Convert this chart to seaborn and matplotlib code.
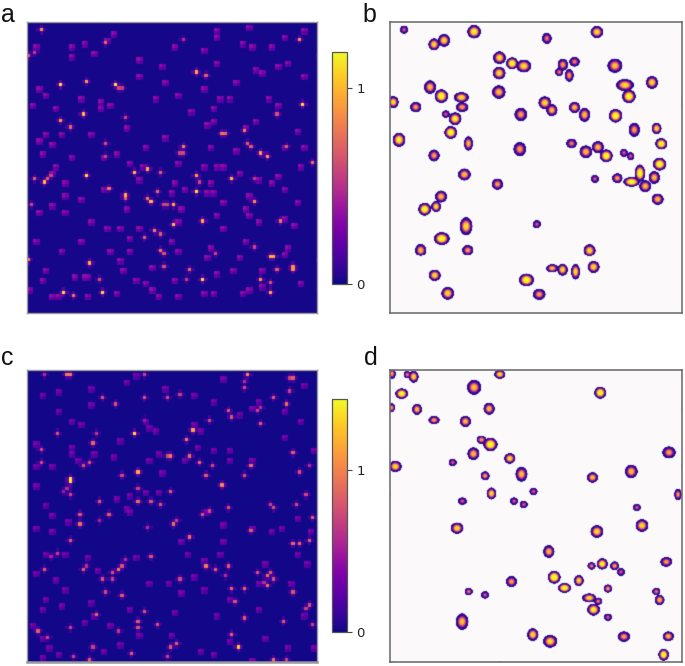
import numpy as np
import matplotlib
matplotlib.use("Agg")
import matplotlib.pyplot as plt
from matplotlib.colors import LinearSegmentedColormap
import seaborn as sns

# ---------- panel a : bright cells (col, row, value)
a_col = [4,24,84,52,55,10,18,27,28,29,85,17,10,13,30,77,67,60,61,68,69,48,47,48,80,72,74,88,24,24,37,33,41,52,18,2,5,6,7,63,70,53,25,52,40,30,30,37,38,42,43,45,1,70,54,45,78,39,41,36,41,42,58,70,75,76,0,19,42,50,77,82,82,54,72,22,49,75,11,14,23,75,2,0,48]
a_row = [2,6,5,15,16,19,18,19,20,20,25,28,30,32,29,28,33,34,34,37,38,38,40,40,38,40,41,43,37,41,45,46,46,47,47,48,49,48,47,48,48,49,51,52,52,53,54,54,55,56,56,56,56,55,61,62,61,64,65,66,70,71,71,69,72,72,73,74,75,76,76,76,75,79,79,79,79,80,83,84,83,83,9,10,5]
a_val = [.9,.75,.9,1.0,.7,1.18,.95,1.18,.6,.55,1.18,1.05,.95,.75,.6,.65,.85,.8,.75,.7,.7,.85,.6,.6,.7,.95,.95,.8,.65,.6,1.0,1.05,.7,.95,1.18,.7,1.05,.7,.6,1.05,.55,.6,.8,1.18,.75,1.0,.7,.8,1.05,.6,.6,1.0,.6,.9,1.0,1.05,.8,.85,.7,.7,.8,.65,.6,.6,1.0,1.0,.85,1.0,.65,.75,.7,.9,.9,1.15,.9,.65,.55,.65,1.15,.8,1.15,1.0,.55,.7,.5]
# panel a : faint speckles
a_faint_col = [58,58,68,85,26,24,13,17,2,45,54,66,69,75,20,13,34,79,58,41,34,72,77,80,70,64,85,54,46,42,39,59,62,16,5,3,22,74,77,22,25,8,1,57,50,70,55,57,30,67,83,19,10,5,3,7,42,36,56,64,79,85,4,13,23,27,46,54,58,60,65,77,71,84,8,7,35,31,34,45,56,75,79,11,11,23,16,44,48,55,60,68,57,83,7,11,3,30,47,67,68,58,71,19,46,34,24,28,82,79,60,2,16,31,44,46,56,67,80,10,25,31,28,55,65,79,5,14,18,38,29,63,72,58,4,17,33,36,38,45,54,57,68,66,72,84,9,0,18,27,46,40,7]
a_faint_row = [2,4,1,2,3,5,7,6,7,7,8,6,7,7,9,10,11,4,12,13,16,15,13,12,14,18,16,20,22,18,23,23,23,23,22,20,24,23,25,26,25,26,25,26,27,30,31,30,32,32,33,34,34,34,36,37,35,38,38,39,38,38,40,41,41,40,43,44,44,44,46,47,48,44,44,46,44,43,48,49,49,49,51,49,53,51,54,52,51,52,55,53,52,55,56,58,58,57,57,57,59,59,61,61,61,63,63,63,62,60,63,67,67,66,67,70,69,67,69,70,70,70,73,72,72,71,76,78,78,75,76,76,76,77,79,78,79,80,82,79,83,83,82,83,81,80,84,82,84,83,84,84,84]

# ---------- panel c : bright cells
c_col = [5,13,12,36,68,82,81,67,67,23,27,36,43,47,76,81,80,62,63,71,72,72,56,36,33,51,49,9,20,21,4,4,17,19,43,44,50,53,57,82,69,87,84,34,29,55,67,13,13,60,12,34,44,13,11,86,22,34,38,41,62,75,76,83,56,54,25,16,88,16,22,45,46,37,50,69,13,82,84,87,9,7,38,5,17,18,30,29,28,26,26,23,55,58,62,61,71,75,74,76,73,74,47,63,67,82,24,29,64,87,86,36,21,34,34,40,67,79,88,28,3,13,6,63,65,44,46,20,32,43,14,19,76,80]
c_row = [1,1,1,1,1,2,2,3,5,8,10,8,8,7,8,6,10,12,14,12,11,16,15,15,19,18,21,19,22,19,24,28,29,28,26,26,26,28,29,25,29,29,31,31,32,32,32,33,34,35,36,36,37,38,37,38,40,40,40,41,42,41,42,41,43,44,44,44,45,47,46,47,46,48,51,49,52,53,53,52,56,57,57,61,61,60,58,60,61,62,64,64,60,61,60,63,62,62,63,64,65,66,64,67,67,68,68,69,71,72,73,74,75,77,79,78,76,77,78,80,80,79,82,81,85,85,84,85,87,88,88,89,89,89]
c_val = [.6,1.0,1.0,.7,1.05,.85,.7,.6,.75,.8,.8,.8,.75,.7,.85,.7,.95,.8,.8,.75,.6,.85,.75,.5,1.44,1.15,1.0,.8,.9,.65,.75,.75,.8,.8,.75,1.0,.95,.9,.75,.85,.95,.6,.8,1.2,.75,.85,.8,1.44,1.44,1.05,.6,.7,.85,.75,.5,.75,.85,.95,.8,.8,.8,.7,.8,.75,.75,.8,.85,.8,.85,.95,.55,.95,.7,.6,.95,.85,.85,.9,.9,.85,.7,.55,.8,.85,.85,.6,.6,.8,1.0,.8,.7,.8,1.0,.85,.85,.6,.8,.85,.95,.8,.6,.95,.75,.9,.9,.8,.75,.85,.8,.8,.7,.8,.9,.85,.8,.8,.85,.85,.7,.65,.85,.7,.7,.9,1.3,.85,.85,.7,.85,.7,.7,.85,.95,.7]
c_faint_col = [4,9,19,19,30,42,51,57,60,65,71,69,79,84,85,33,9,16,13,37,39,36,51,53,52,2,13,13,15,26,20,28,37,40,48,57,62,62,79,69,88,2,7,41,2,5,7,2,7,12,36,40,31,27,30,31,55,60,69,75,78,87,83,47,60,59,49,33,11,18,5,83,86,54,73,21,51,43,37,8,2,11,81,71,47,54,19,5,4,10,31,45,62,71,58,85,20,17,1,25,4,6,23,34,9,28,57,62,73,80,88,69,44,53,4]
c_faint_row = [7,6,10,5,3,5,7,9,2,13,9,11,12,15,4,1,12,16,15,17,18,15,16,18,23,22,23,25,27,26,25,21,27,25,27,24,24,27,20,27,24,29,29,31,35,41,44,48,49,46,37,37,38,39,42,43,43,47,48,49,48,49,45,52,52,56,56,57,56,57,56,56,59,58,59,61,63,65,65,64,62,67,65,65,68,67,71,70,73,72,73,74,70,73,75,75,75,77,78,78,82,85,86,81,87,84,87,83,82,85,85,89,81,86,88]

# ---------- panel b blobs (centre x, centre y, half width, half height, peak)
b_x = [42,132,162,252,470,620,328,366,401,518,553,507,537,674,327,785,704,120,154,214,326,716,10,77,216,464,485,553,583,676,167,195,392,182,732,799,27,235,544,813,389,587,623,648,132,701,721,808,223,749,322,614,681,724,792,765,153,802,104,138,440,228,155,92,233,598,486,517,556,610,134,409,173,447]
b_y = [23,67,55,29,49,30,107,124,132,128,119,150,160,131,153,181,189,195,222,226,210,223,240,255,255,242,264,256,278,281,276,290,277,331,323,319,353,364,364,365,381,389,375,401,400,392,402,426,457,453,486,470,468,479,466,492,523,531,561,553,606,612,649,684,684,685,741,745,751,737,762,776,816,819]
b_w = [11,15,16,18,13,17,17,16,20,14,14,11,12,20,17,16,24,16,18,20,18,18,14,15,17,17,15,15,15,18,11,17,17,17,15,13,17,12,14,16,17,17,16,17,15,11,10,18,17,14,15,11,14,22,15,16,16,16,17,13,11,17,21,15,15,16,16,14,12,16,16,20,17,17]
b_h = [11,16,17,18,15,16,17,16,17,16,13,11,17,19,17,17,16,18,18,14,18,18,16,14,13,17,16,15,19,18,10,17,18,17,19,15,19,19,13,15,19,17,16,17,16,11,11,17,16,23,15,11,13,13,17,16,16,15,17,15,11,24,17,17,14,17,11,16,21,16,15,17,17,15]
b_p = [.7,.9,.9,.95,.75,.9,.9,1,.9,.8,.75,.75,.8,.85,.9,.9,.9,.85,1,.9,.85,1,.9,.8,.8,.9,.85,.85,.85,1,.7,.95,.8,1,.8,.9,.95,.85,.75,1,.8,.85,.85,1,.8,.7,.7,1,.85,1,.8,.7,.8,1,.85,.85,.85,.85,1,.9,.7,.9,1,.85,.8,.9,.85,.9,.9,.9,.9,1,.9,.8]

# ---------- panel d blobs
d_x = [6,52,71,329,252,35,630,5,81,297,132,226,274,301,250,359,836,188,16,394,285,607,723,304,430,863,217,372,401,740,201,620,755,476,828,636,604,673,692,492,566,364,523,653,236,285,798,808,597,624,610,653,216,428,480,701,834,820]
d_y = [11,14,20,13,52,71,68,113,118,116,150,154,209,223,251,265,247,277,289,312,317,322,304,370,364,373,393,393,403,412,474,484,466,544,575,581,587,587,605,621,631,634,653,655,664,674,664,689,683,693,718,741,754,793,813,799,798,853]
d_w = [10,10,13,15,19,17,16,9,13,15,15,15,13,19,16,15,18,11,17,16,12,15,17,13,11,10,12,11,11,11,17,17,17,15,16,15,11,12,11,17,13,15,18,11,11,11,11,13,19,11,17,11,17,15,19,17,15,14]
d_h = [14,10,16,12,20,14,16,12,15,16,11,15,11,18,17,14,16,10,15,20,12,14,18,16,10,15,10,10,10,10,15,17,17,17,13,15,10,12,11,17,15,15,13,11,10,10,10,14,12,10,16,10,22,17,17,14,13,16]
d_p = [.8,.75,.9,.9,.85,1,1,.8,.85,.85,.8,.85,.8,1,.85,.9,.8,.7,.9,.85,.8,.85,.85,.9,.7,.8,.7,.7,.7,.7,.9,.9,.9,.85,.8,.95,.75,.8,.7,1.05,.9,.8,1,.8,.75,.7,.75,.85,.9,.75,.95,.7,.85,.9,.9,.8,.85,1]

colorbar_ticks = [0, 1]
panel_letters = ["a", "b", "c", "d"]

N_CELLS = 90
BASE_LEVEL = 0.015
FAINT_LEVEL = 0.36
W, H = 685, 666


def noise_grid(col, row, val, fcol, frow):
    grid = np.full((N_CELLS, N_CELLS), BASE_LEVEL)
    def raise_to(r, c, v):
        if 0 <= r < N_CELLS and 0 <= c < N_CELLS:
            grid[r, c] = max(grid[r, c], v)
    for c, r in zip(fcol, frow):
        raise_to(r, c, FAINT_LEVEL)
        raise_to(r, c + 1, FAINT_LEVEL * 0.8)
        raise_to(r + 1, c, FAINT_LEVEL * 0.65)
        raise_to(r + 1, c + 1, FAINT_LEVEL * 0.5)
    for c, r, v in zip(col, row, val):
        for dc, dr in ((1, 0), (-1, 0), (0, 1), (0, -1)):
            raise_to(r + dr, c + dc, v * 0.18)
    for c, r, v in zip(col, row, val):
        grid[r, c] = v
    return grid


def blob_field(xs, ys, ws, hs, ps, span=875, n=292):
    centres = (np.arange(n) + 0.5) * span / n
    gx, gy = np.meshgrid(centres, centres)
    field = np.zeros((n, n))
    for x, y, w, h, p in zip(xs, ys, ws, hs, ps):
        gain = 0.72 + (p - 0.7) * 1.25
        field = np.maximum(field, gain * (1 - ((gx - x) / (w * 1.16)) ** 2 - ((gy - y) / (h * 1.16)) ** 2))
    return np.clip(field, 0, None)


def soften(image, dpi):
    """Rendering-only softening of the drawn panel, like the reference's resampled look."""
    k = np.array([0.15, 0.7, 0.15])
    out = image.astype(float)
    for axis in (0, 1):
        out = (np.roll(out, 1, axis) * k[0] + out * k[1] + np.roll(out, -1, axis) * k[2])
    return out, 0, 0


def place(l, t, r, b):
    return [l / W, 1 - b / H, (r - l) / W, (b - t) / H]


blob_cmap = LinearSegmentedColormap.from_list("blob", [
    (0.0, "#fcfafa"), (0.012, "#fcfafa"), (0.03, "#d5cfee"), (0.07, "#1c0c88"),
    (0.42, "#30069a"), (0.56, "#8a0da0"), (0.68, "#cc4778"), (0.8, "#f89540"), (0.92, "#f8d628"), (1.0, "#f0f921")])

sns.set_theme(style="white")
plt.rcParams["font.family"] = ["DejaVu Sans"]
fig = plt.figure(figsize=(W / 100, H / 100), dpi=100, facecolor="white")

panels = [
    (noise_grid(a_col, a_row, a_val, a_faint_col, a_faint_row), 1.187, (26.7, 21.7, 317.3, 313.3), (332.3, 51.7, 346.7, 284)),
    (noise_grid(c_col, c_row, c_val, c_faint_col, c_faint_row), 1.44, (26.7, 370, 317.3, 661.7), (332.3, 399.3, 346.7, 632.3)),
]
noise_axes = []
for grid, vmax, box, cbox in panels:
    ax = fig.add_axes(place(*box))
    cax = fig.add_axes(place(*cbox))
    sns.heatmap(grid, ax=ax, cbar_ax=cax, cmap="plasma", vmin=0, vmax=vmax,
                xticklabels=False, yticklabels=False, square=False,
                cbar_kws={"ticks": colorbar_ticks})
    ax.collections[0].set_agg_filter(soften)
    ax.set_xticks([]); ax.set_yticks([])
    for s in ax.spines.values():
        s.set_visible(True); s.set_color("#999999"); s.set_linewidth(1.0)
    cax.tick_params(length=3.5, width=0.8, labelsize=9.5, color="#444444", labelcolor="#222222", right=True)
    cbar = ax.collections[0].colorbar
    cbar.outline.set_visible(True); cbar.outline.set_edgecolor("#555555"); cbar.outline.set_linewidth(0.9)
    noise_axes.append(ax)
noise_axes[1].spines["bottom"].set_linewidth(1.8)

for (xs, ys, ws, hs, ps), box in [
    ((b_x, b_y, b_w, b_h, b_p), (390, 22.3, 681.7, 313.3)),
    ((d_x, d_y, d_w, d_h, d_p), (390, 370, 681.7, 661.7)),
]:
    ax = fig.add_axes(place(*box))
    sns.heatmap(blob_field(xs, ys, ws, hs, ps), ax=ax, cmap=blob_cmap, vmin=0, vmax=1, cbar=False,
                xticklabels=False, yticklabels=False)
    ax.collections[0].set_agg_filter(soften)
    ax.set_xticks([]); ax.set_yticks([])
    for s in ax.spines.values():
        s.set_visible(True); s.set_color("#666666"); s.set_linewidth(1.1)

for letter, (x, y) in zip(panel_letters, [(1, 15), (362, 15), (1, 358), (364, 358)]):
    fig.text(x / W, 1 - y / H, letter, fontsize=18, family="Liberation Sans", color="#111111",
             ha="left", va="center")

fig.savefig("out.png", dpi=100, facecolor="white")
